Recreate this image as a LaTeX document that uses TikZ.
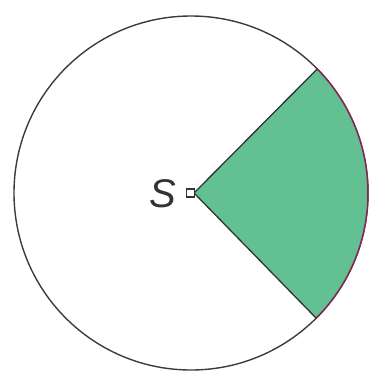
\documentclass[tikz,border=0pt]{standalone}
\usepackage{fontspec}
\setsansfont{Liberation Sans}
\usetikzlibrary{calc}
\definecolor{sectgreen}{RGB}{99,192,146}
\definecolor{rim}{RGB}{60,60,60}
\definecolor{arcred}{RGB}{130,40,80}
\begin{document}
\begin{tikzpicture}[x=1pt,y=1pt,
  outline/.style={draw=rim,line width=1.4pt},
  sector/.style={draw=black!80,line width=1.3pt,line join=round},
  pointmark/.style={draw=black!80,fill=white,line width=1.3pt,minimum size=8pt,inner sep=0pt,rectangle},
  lbl/.style={font=\sffamily\itshape\fontsize{40}{40}\selectfont,text=black!80,inner sep=0pt}]
\useasboundingbox (0,0) rectangle (372,-373);
\coordinate (c) at (194,-193);
\coordinate (p1) at ($(191,-193)+(44.5:177)$);
\coordinate (p2) at ($(191,-193)+(-45:177)$);
\draw[outline] (191,-193) circle (177);
\fill[sectgreen] (c) -- (p1) arc (44.5:-45:177) -- cycle;
\draw[sector] (p1) -- (c) -- (p2);
\draw[arcred,line width=1.5pt] (p1) arc (44.5:-45:177);
\node[pointmark,anchor=east] (s) at ([xshift=1pt]c) {};
\node[lbl,anchor=east] (lab) at (176,-194) {S};
\end{tikzpicture}
\end{document}
